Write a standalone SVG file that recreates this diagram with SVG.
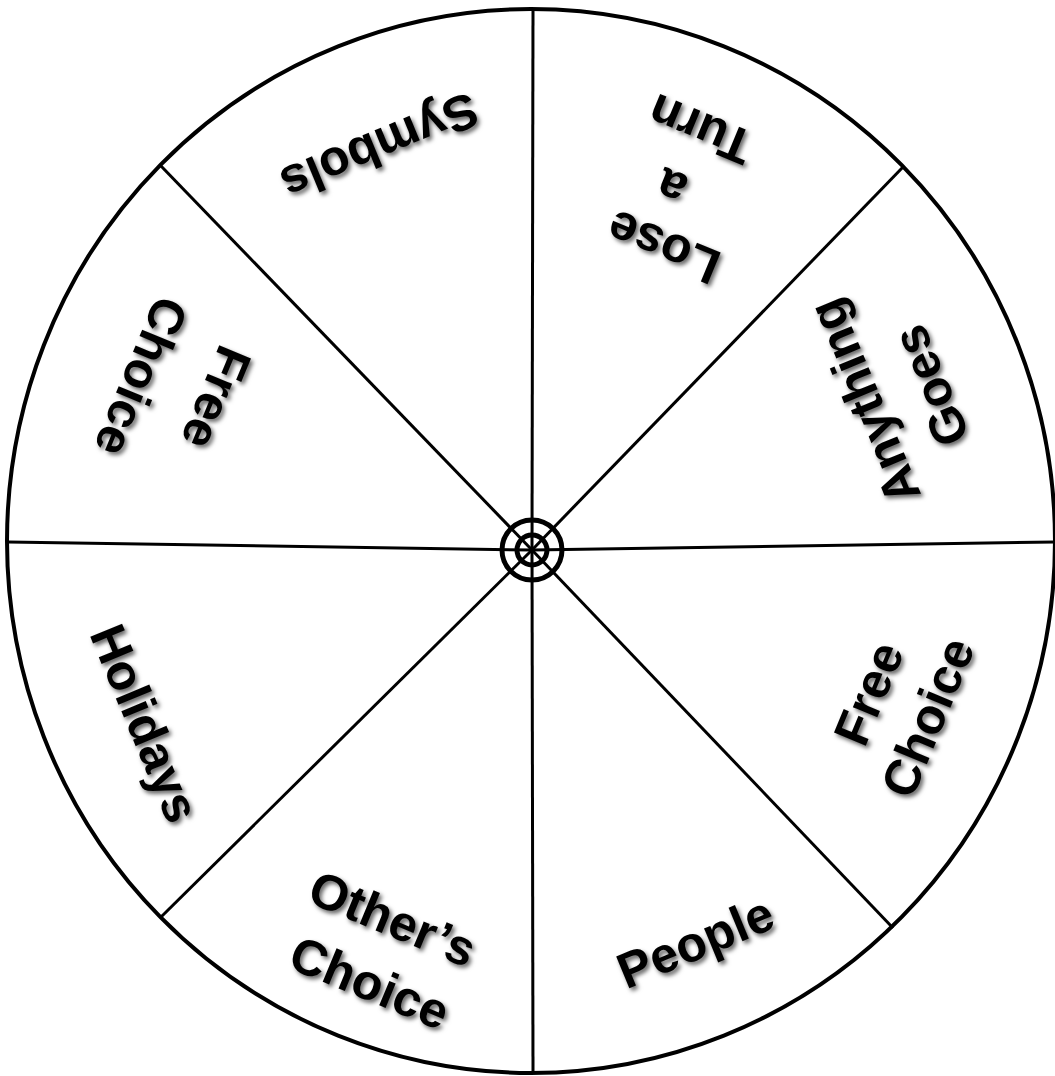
<svg xmlns="http://www.w3.org/2000/svg" width="1055" height="1076" viewBox="0 0 1055 1076">
<defs>
<filter id="sh" x="-20%" y="-20%" width="140%" height="140%">
<feDropShadow dx="2.5" dy="3" stdDeviation="2" flood-color="#000" flood-opacity="0.6"/>
</filter>
</defs>
<style>
.lbl{font-family:"Liberation Sans",Arial,sans-serif;font-weight:bold;font-size:50px;fill:#000;text-anchor:middle}
.spoke{stroke:#000;stroke-width:3;fill:none}
.rim{stroke:#000;stroke-width:4;fill:#fff}
.ring{stroke:#000;stroke-width:5;fill:none}
</style>
<rect width="1055" height="1076" fill="#fff"/>
<ellipse id="wheel" class="rim" cx="531" cy="541" rx="524" ry="532"/>
<g id="connectors">
<line class="spoke" x1="532" y1="550" x2="533" y2="9"/>
<line class="spoke" x1="532" y1="550" x2="533" y2="1073"/>
<line class="spoke" x1="532" y1="550" x2="8" y2="542"/>
<line class="spoke" x1="532" y1="550" x2="1055" y2="542"/>
<line class="spoke" x1="532" y1="550" x2="161" y2="166"/>
<line class="spoke" x1="532" y1="550" x2="904" y2="166"/>
<line class="spoke" x1="532" y1="550" x2="161" y2="917"/>
<line class="spoke" x1="532" y1="550" x2="893" y2="928"/>
</g>
<g id="hub">
<circle class="ring" cx="532" cy="550" r="30"/>
<circle class="ring" cx="532" cy="550" r="15"/>
</g>
<g id="symbols" filter="url(#sh)">
<text class="lbl" transform="translate(378,143) rotate(157.5)" y="13">Symbols</text>
</g>
<g id="lose-a-turn" filter="url(#sh)">
<text class="lbl" transform="translate(663,248) rotate(202.5)" y="18">Lose</text>
<text class="lbl" transform="translate(673,184) rotate(202.5)" y="13">a</text>
<text class="lbl" transform="translate(700,130) rotate(202.5)" y="18">Turn</text>
</g>
<g id="anything-goes" filter="url(#sh)">
<text class="lbl" transform="translate(868,400) rotate(-112.5)" y="13">Anything</text>
<text class="lbl" transform="translate(930,386) rotate(-112.5)" y="18">Goes</text>
</g>
<g id="free-choice-right" filter="url(#sh)">
<text class="lbl" transform="translate(868,693) rotate(-67.5)" y="18">Free</text>
<text class="lbl" transform="translate(927,717) rotate(-67.5)" y="18">Choice</text>
</g>
<g id="people" filter="url(#sh)">
<text class="lbl" transform="translate(697,946) rotate(-22.5)" y="13">People</text>
</g>
<g id="others-choice" filter="url(#sh)">
<text class="lbl" transform="translate(393,918) rotate(22.5)" y="18">Other’s</text>
<text class="lbl" transform="translate(370,982) rotate(22.5)" y="18">Choice</text>
</g>
<g id="holidays" filter="url(#sh)">
<text class="lbl" transform="translate(141,725) rotate(67.5)" y="13">Holidays</text>
</g>
<g id="free-choice-left" filter="url(#sh)">
<text class="lbl" transform="translate(217,398) rotate(112.5)" y="18">Free</text>
<text class="lbl" transform="translate(142,377) rotate(112.5)" y="18">Choice</text>
</g>
</svg>
